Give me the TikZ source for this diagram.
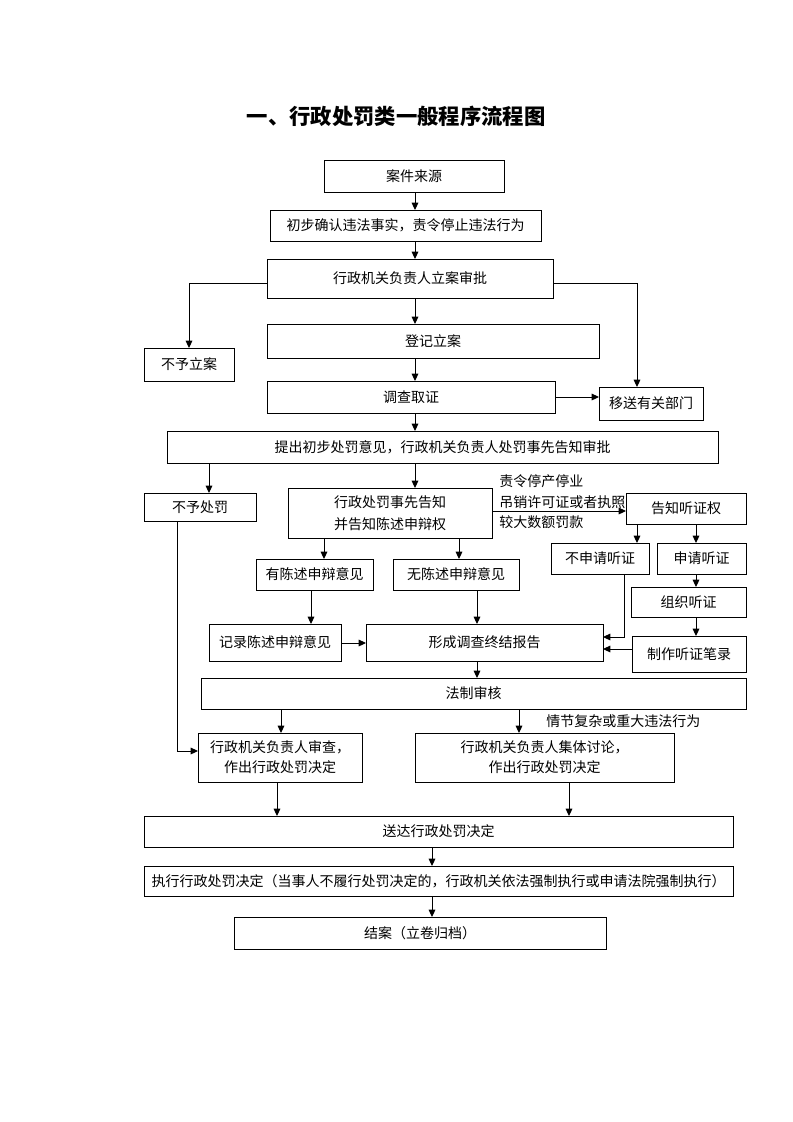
\documentclass[tikz,border=0pt]{standalone}
\usepackage{fontspec}
\setmainfont{Noto Sans CJK SC}
\usetikzlibrary{arrows.meta}
\tikzset{
  box/.style={draw, line width=0.75pt, inner sep=0pt, outer sep=0pt, align=center,
    font=\fontsize{10.5pt}{16pt}\selectfont},
  arr/.style={line width=0.75pt, -{Triangle[length=5.5pt,width=5pt]}},
  lbl/.style={inner sep=0pt, align=left, anchor=west, font=\fontsize{10.5pt}{15.4pt}\selectfont},
}
% \bx[opts]{name}{x1}{y1}{x2}{y2}{text}
\newcommand\bx[7][]{%
  \pgfmathsetmacro\bxcx{(#3+#5)/2}%
  \pgfmathsetmacro\bxcy{(#4+#6)/2}%
  \pgfmathsetmacro\bxw{(#5-#3)*0.75}%
  \pgfmathsetmacro\bxh{(#6-#4)*0.75}%
  \node[box, minimum width=\bxw pt, minimum height=\bxh pt, #1] (#2) at (\bxcx,\bxcy) {#7};%
}
\begin{document}
\begin{tikzpicture}[x=0.75pt,y=-0.75pt]
\useasboundingbox (0,0) rectangle (793,1122);
\fill[white] (0,0) rectangle (793,1122);
% title
\node[font=\fontsize{16pt}{18pt}\selectfont\bfseries, inner sep=0pt] (title) at (396,116) {一、行政处罚类一般程序流程图};
% boxes
\bx{src}{324}{160}{504}{192}{案件来源}
\bx{init}{270}{210}{541}{241}{初步确认违法事实，责令停止违法行为}
\bx{appr}{267}{259}{553}{298}{行政机关负责人立案审批}
\bx{reg}{267}{324}{599}{358}{登记立案}
\bx{inv}{267}{381}{555}{413}{调查取证}
\bx{nocase}{144}{348}{234}{381}{不予立案}
\bx{transfer}{599}{387}{703}{420}{移送有关部门}
\bx{prop}{167}{431}{718}{463}{提出初步处罚意见，行政机关负责人处罚事先告知审批}
\bx{nopen}{144}{493}{256}{521}{不予处罚}
\bx[font=\fontsize{10.5pt}{16.5pt}\selectfont]{notice}{288}{488}{492}{538}{行政处罚事先告知\\并告知陈述申辩权}
\bx{has}{256}{559}{373}{590}{有陈述申辩意见}
\bx{hasnot}{393}{559}{519}{590}{无陈述申辩意见}
\bx{rec}{209}{624}{341}{661}{记录陈述申辩意见}
\bx{report}{366}{624}{603}{661}{形成调查终结报告}
\bx{hear}{626}{493}{746}{524}{告知听证权}
\bx{nohear}{551}{543}{649}{574}{不申请听证}
\bx{reqhear}{657}{543}{746}{574}{申请听证}
\bx{org}{631}{587}{746}{617}{组织听证}
\bx{minutes}{632}{636}{746}{672}{制作听证笔录}
\bx{legal}{201}{678}{746}{709}{法制审核}
\bx[font=\fontsize{10.5pt}{15pt}\selectfont]{single}{198}{733}{362}{782}{行政机关负责人审查，\\作出行政处罚决定}
\bx[font=\fontsize{10.5pt}{15pt}\selectfont]{collective}{415}{733}{674}{782}{行政机关负责人集体讨论，\\作出行政处罚决定}
\bx{deliver}{144}{816}{733}{847}{送达行政处罚决定}
\bx{exec}{144}{866}{733}{896}{执行行政处罚决定（当事人不履行处罚决定的，行政机关依法强制执行或申请法院强制执行）}
\bx{close}{234}{917}{606}{949}{结案（立卷归档）}
% labels
\node[lbl] (l1) at (499,502) {责令停产停业\\吊销许可证或者执照\\较大数额罚款};
\node[lbl] (l2) at (546,721) {情节复杂或重大违法行为};
% helper coordinates
\coordinate (xm) at (415,0);
\coordinate (x209) at (209,0);
\coordinate (x324) at (324,0);
\coordinate (x459) at (459,0);
\coordinate (x311) at (311,0);
\coordinate (x477) at (477,0);
\coordinate (x637) at (637,0);
\coordinate (x696) at (696,0);
\coordinate (x624) at (624,0);
\coordinate (x177) at (177,0);
\coordinate (x281) at (281,0);
\coordinate (x519) at (519,0);
\coordinate (x277) at (277,0);
\coordinate (x569) at (569,0);
\coordinate (x432) at (432,0);
\coordinate (y283) at (0,283);
\coordinate (y397) at (0,397);
\coordinate (y511) at (0,511);
\coordinate (y643) at (0,643);
\coordinate (y637) at (0,637);
\coordinate (y649) at (0,649);
\coordinate (y751) at (0,751);
% connectors
\draw[arr] (src.south -| xm) -- (init.north -| xm);
\draw[arr] (init.south -| xm) -- (appr.north -| xm);
\draw[arr] (appr.south -| xm) -- (reg.north -| xm);
\draw[arr] (reg.south -| xm) -- (inv.north -| xm);
\draw[arr] (inv.south -| xm) -- (prop.north -| xm);
\draw[arr] (appr.west |- y283) -| (nocase.north);
\draw[arr] (appr.east |- y283) -| (transfer.north -| x637);
\draw[arr] (inv.east |- y397) -- (transfer.west |- y397);
\draw[arr] (prop.south -| x209) -- (nopen.north -| x209);
\draw[arr] (prop.south -| xm) -- (notice.north -| xm);
\draw[arr] (notice.east |- y511) -- (hear.west |- y511);
\draw[arr] (notice.south -| x324) -- (has.north -| x324);
\draw[arr] (notice.south -| x459) -- (hasnot.north -| x459);
\draw[arr] (has.south -| x311) -- (rec.north -| x311);
\draw[arr] (hasnot.south -| x477) -- (report.north -| x477);
\draw[arr] (rec.east |- y643) -- (report.west |- y643);
\draw[arr] (hear.south -| x637) -- (nohear.north -| x637);
\draw[arr] (hear.south -| x696) -- (reqhear.north -| x696);
\draw[arr] (reqhear.south -| x696) -- (org.north -| x696);
\draw[arr] (org.south -| x696) -- (minutes.north -| x696);
\draw[arr] (nohear.south -| x624) |- (report.east |- y637);
\draw[arr] (minutes.west |- y649) -- (report.east |- y649);
\draw[arr] (report.south -| x477) -- (legal.north -| x477);
\draw[arr] (legal.south -| x281) -- (single.north -| x281);
\draw[arr] (legal.south -| x519) -- (collective.north -| x519);
\draw[arr] (nopen.south -| x177) |- (single.west |- y751);
\draw[arr] (single.south -| x277) -- (deliver.north -| x277);
\draw[arr] (collective.south -| x569) -- (deliver.north -| x569);
\draw[arr] (deliver.south -| x432) -- (exec.north -| x432);
\draw[arr] (exec.south -| x432) -- (close.north -| x432);
\end{tikzpicture}
\end{document}
